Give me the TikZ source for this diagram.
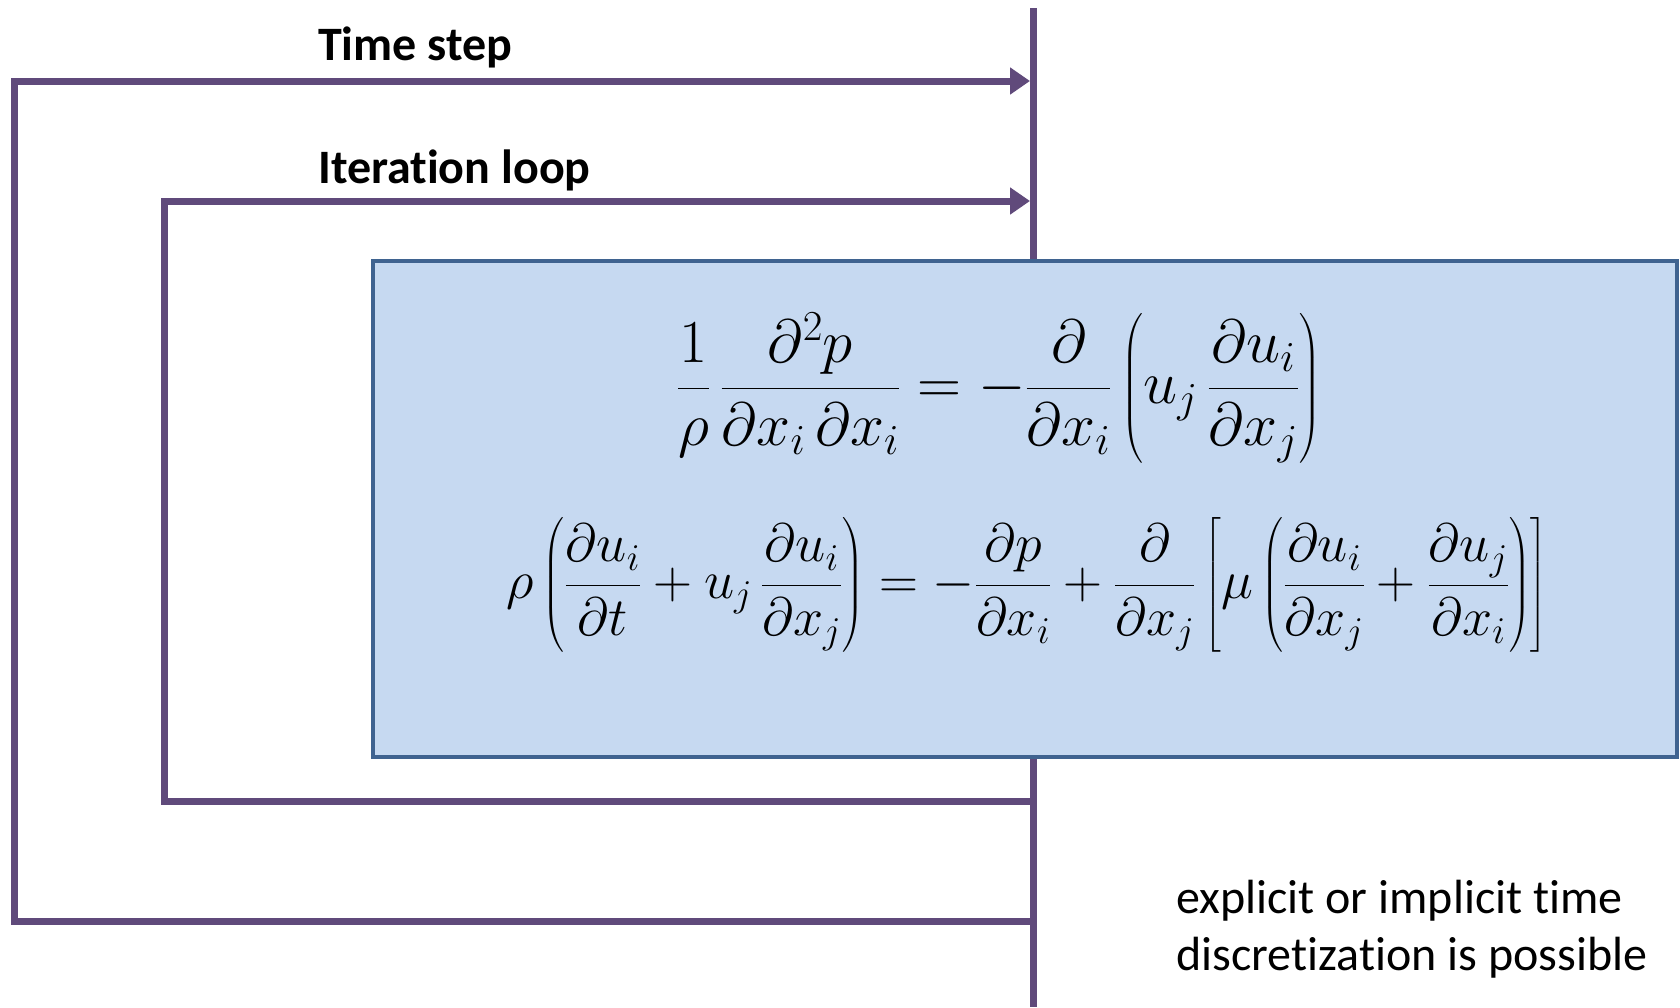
\RequirePackage{fix-cm}
\documentclass[tikz,border=0pt]{standalone}
\usepackage{fontspec}
\usepackage{amsmath}
\setmainfont{Carlito}[Ligatures=NoCommon]
\usetikzlibrary{arrows.meta}
\definecolor{loopc}{HTML}{604A7B}
\definecolor{boxfill}{HTML}{C6D9F1}
\definecolor{boxline}{HTML}{3F6390}
\begin{document}
\begin{tikzpicture}[x=1pt,y=-1pt,
  loopline/.style={draw=loopc,line width=7pt},
  looparrow/.style={loopline,-{Triangle[length=20pt,width=26pt]}},
  eqbox/.style={draw=boxline,line width=4pt,fill=boxfill,minimum width=1304pt,minimum height=496pt,inner sep=0pt},
  lbl/.style={font=\fontsize{48}{56}\selectfont\bfseries,anchor=west,inner sep=0pt},
  note/.style={font=\fontsize{48}{57}\selectfont,anchor=west,align=left,inner sep=0pt},
  eq/.style={font=\fontsize{54}{62}\selectfont,inner sep=0pt},
  eqbig/.style={font=\fontsize{61}{70}\selectfont,inner sep=0pt}]
\useasboundingbox (0,0) rectangle (1680,1007);
% coordinates
\coordinate (vtop) at (1033,8);
\coordinate (vbot) at (1033,1007);
\coordinate (oa) at (1033,921);
\coordinate (ob) at (14,921);
\coordinate (oc) at (14,81);
\coordinate (od) at (1030,81);
\coordinate (ia) at (1033,801);
\coordinate (ib) at (164,801);
\coordinate (ic) at (164,201);
\coordinate (id) at (1030,201);
% main vertical line
\draw[loopline] (vtop) -- (vbot);
% loops
\draw[looparrow] (oa) -- (ob) -- (oc) -- (od);
\draw[looparrow] (ia) -- (ib) -- (ic) -- (id);
% labels
\node[lbl] (ts) at (318,47) {Time step};
\node[lbl] (il) at (318,170) {Iteration loop};
% box
\node[eqbox] (box) at (1025,509) {};
\node[eqbig] (eq1) at (999,388) {$\displaystyle \frac{1}{\rho}\,\frac{\partial^2 p}{\partial x_i\,\partial x_i}=-\frac{\partial}{\partial x_i}\left(u_j\,\frac{\partial u_i}{\partial x_j}\right)$};
\node[eq] (eq2) at (1027,585) {$\displaystyle \rho\left(\frac{\partial u_i}{\partial t}+u_j\,\frac{\partial u_i}{\partial x_j}\right)=-\frac{\partial p}{\partial x_i}+\frac{\partial}{\partial x_j}\left[\mu\left(\frac{\partial u_i}{\partial x_j}+\frac{\partial u_j}{\partial x_i}\right)\right]$};
% note
\node[note] (nt) at (1176,929) {explicit or implicit time\\discretization is possible};
\end{tikzpicture}
\end{document}
